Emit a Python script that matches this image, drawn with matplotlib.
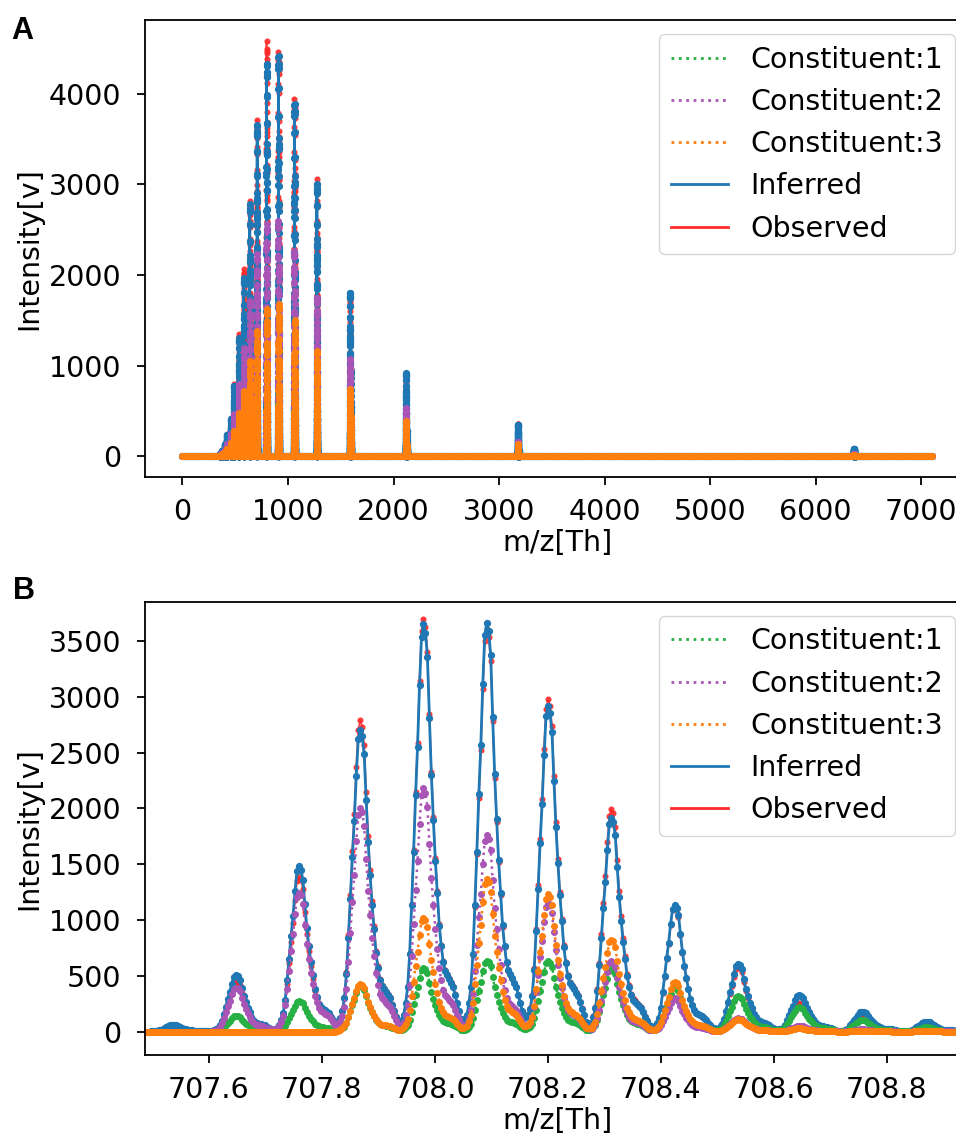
import numpy as np
import matplotlib
matplotlib.use("Agg")
from matplotlib import pyplot as plt
from matplotlib.lines import Line2D

plt.rcParams['font.family'] = ['DejaVu Sans']
plt.rcParams['font.size'] = 20.5

# colours
c_green = '#27b043'
c_purple = '#a955b6'
c_orange = '#ff7f0e'
c_blue = '#1f77b4'
c_red = '#ff2a2a'

# ---- panel B : isotope envelope of the 9+ ion ----
iso_mz = [707.536, 707.647, 707.758, 707.869, 707.980, 708.091, 708.202,
          708.313, 708.424, 708.535, 708.646, 708.757, 708.868]
obs_h = [55, 450, 1390, 2790, 3700, 3610, 2980, 1995, 1120, 580, 255, 130, 60]
inf_h = [60, 505, 1480, 2700, 3650, 3665, 2915, 1915, 1135, 610, 330, 180, 90]
con1_h = [0, 140, 275, 410, 570, 635, 630, 560, 400, 320, 220, 105, 40]
con2_h = [0, 395, 1245, 2005, 2185, 1765, 1155, 630, 300, 120, 50, 20, 10]
con3_h = [0, 0, 0, 425, 1020, 1365, 1230, 825, 445, 110, 30, 10, 5]

peak_shape = [0.01, 0.02, 0.04, 0.07, 0.11, 0.19, 0.31, 0.44, 0.58, 0.70, 0.85, 0.97,
              1.00, 0.98, 0.92, 0.77, 0.63, 0.52, 0.42, 0.34, 0.26, 0.21, 0.17, 0.15,
              0.14, 0.13, 0.12, 0.11, 0.09, 0.07, 0.05, 0.03, 0.02, 0.01]
apex_idx = 12
step = 0.0035
grid = np.arange(707.49, 708.951, step)

# ---- panel A : charge state series (apex heights of each trace) ----
charge = [1, 2, 3, 4, 5, 6, 7, 8, 9, 10, 11, 12, 13, 14, 15, 16, 17, 18]
cs_mz = [6363.9, 3182.5, 2122.0, 1591.7, 1273.6, 1061.5, 910.0, 796.4, 708.0,
         637.3, 579.4, 531.2, 490.5, 455.5, 425.2, 398.7, 375.3, 354.5]
obsA = [70, 360, 900, 1790, 3060, 3948, 4464, 4586, 3713, 2817, 2066, 1348, 800, 424, 243, 136, 60, 25]
infA = [85, 350, 917, 1805, 3010, 3890, 4420, 4330, 3660, 2790, 1970, 1300, 780, 410, 235, 130, 58, 25]
con1A = [15, 60, 155, 305, 510, 660, 750, 735, 640, 475, 335, 220, 130, 70, 40, 22, 10, 4]
con2A = [25, 160, 530, 1070, 1745, 2265, 2597, 2560, 2230, 1710, 1190, 795, 470, 250, 140, 75, 35, 15]
con3A = [15, 130, 387, 740, 1160, 1500, 1680, 1622, 1380, 1050, 720, 478, 280, 150, 85, 45, 20, 8]


def profile(heights):
    y = np.zeros(len(grid))
    for c, h in zip(iso_mz, heights):
        i0 = int(round((c - grid[0]) / step))
        for k, s in enumerate(peak_shape):
            j = i0 + k - apex_idx
            if 0 <= j < len(grid):
                y[j] += h * s
    return y


def full_spectrum(prof, tops):
    # put a scaled copy of the envelope at every charge state on a flat baseline
    base_x = np.arange(0, 7100.1, 10.0)
    keep = np.ones(len(base_x), bool)
    xs, ys = [], []
    pmax = prof.max()
    for z, c, t in zip(charge, cs_mz, tops):
        xz = c + (grid - 708.0) * 9.0 / z
        keep &= ~((base_x >= xz.min() - 5) & (base_x <= xz.max() + 5))
        xs.append(xz)
        ys.append(prof * t / pmax)
    xs.append(base_x[keep])
    ys.append(np.zeros(keep.sum()))
    x = np.concatenate(xs)
    y = np.concatenate(ys)
    o = np.argsort(x)
    return x[o], y[o]


series = [
    ('Observed', obs_h, obsA, c_red, '-', 1.3, 3.4, 0.85),
    ('Inferred', inf_h, infA, c_blue, '-', 2.0, 4.2, 1.0),
    ('Constituent:1', con1_h, con1A, c_green, ':', 1.8, 4.0, 1.0),
    ('Constituent:2', con2_h, con2A, c_purple, ':', 1.8, 4.0, 1.0),
    ('Constituent:3', con3_h, con3A, c_orange, ':', 1.8, 4.0, 1.0),
]

fig = plt.figure(figsize=(9.56, 11.39), dpi=100)
axA = fig.add_axes([0.1517, 0.5812, 0.862, 0.4012])
axB = fig.add_axes([0.1517, 0.0737, 0.862, 0.3980])

for name, hB, hA, col, ls, lw, ms, al in series:
    yB = profile(hB)
    xa, ya = full_spectrum(yB, hA)
    axA.plot(xa, ya, ls=ls, color=col, lw=lw, marker='o', ms=ms, alpha=al)
    axB.plot(grid, yB, ls=ls, color=col, lw=lw, marker='o', ms=ms, alpha=al)

handles = [
    Line2D([], [], color=c_green, ls=':', lw=2),
    Line2D([], [], color=c_purple, ls=':', lw=2),
    Line2D([], [], color=c_orange, ls=':', lw=2),
    Line2D([], [], color=c_blue, ls='-', lw=2),
    Line2D([], [], color=c_red, ls='-', lw=2),
]
labels = ['Constituent:1', 'Constituent:2', 'Constituent:3', 'Inferred', 'Observed']

axA.set_xlim(-355, 7455)
axA.set_ylim(-229, 4815)
axA.set_xticks([0, 1000, 2000, 3000, 4000, 5000, 6000, 7000])
axA.set_yticks([0, 1000, 2000, 3000, 4000])

axB.set_xlim(707.487, 708.946)
axB.set_ylim(-210, 3853)
axB.set_xticks([707.6, 707.8, 708.0, 708.2, 708.4, 708.6, 708.8])
axB.set_yticks(np.arange(0, 3501, 500))

for ax in (axA, axB):
    ax.set_xlabel('m/z[Th]', labelpad=2)
    ax.set_ylabel('Intensity[v]', labelpad=4)
    ax.tick_params(axis='y', length=6, width=1.3, pad=11)
    ax.tick_params(axis='x', length=6, width=1.3, pad=9)
    for sp in ax.spines.values():
        sp.set_linewidth(1.3)
    ax.legend(handles, labels, loc='upper right', fontsize=20.5)

fig.text(0.012, 0.966, 'A', fontsize=22, fontweight='bold', family=['Liberation Sans', 'DejaVu Sans'])
fig.text(0.014, 0.474, 'B', fontsize=22, fontweight='bold', family=['Liberation Sans', 'DejaVu Sans'])

fig.savefig('out.png', dpi=100)
